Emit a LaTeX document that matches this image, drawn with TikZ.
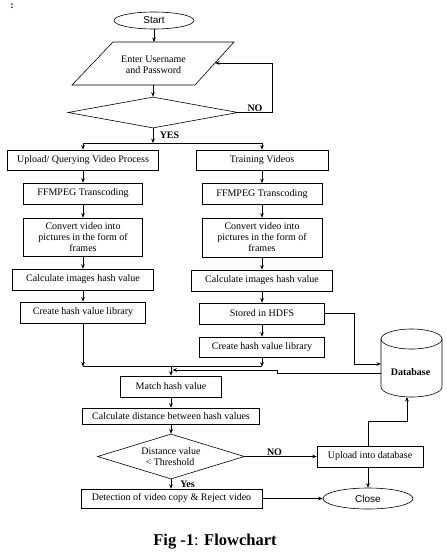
\documentclass[tikz,border=0pt]{standalone}
\usepackage{fontspec}
\setmainfont{Liberation Serif}
\setsansfont{Liberation Sans}
\usetikzlibrary{shapes.geometric,arrows.meta,calc}
\begin{document}
\begin{tikzpicture}[x=1pt,y=-1pt,
  line width=0.6pt,
  arr/.style={-{Stealth[length=4.5pt,width=3.6pt]}},
  box/.style={draw, rectangle, inner sep=0pt, align=center, font=\fontsize{10}{11}\selectfont},
  term/.style={draw, ellipse, inner sep=0pt, font=\sffamily\fontsize{10}{12}\selectfont},
  dec/.style={draw, diamond, inner sep=0pt, align=center, font=\fontsize{10}{11}\selectfont},
  lbl/.style={font=\bfseries\fontsize{10}{12}\selectfont, inner sep=0pt, anchor=base},
  txt/.style={inner sep=0pt, align=center, font=\fontsize{10}{11}\selectfont},
]
\useasboundingbox (0,0) rectangle (447,552);
\fill[white] (0,0) rectangle (447,552);

\node[lbl] (colon) at (12,8) {:};

% start
\node[term, minimum width=80pt, minimum height=17pt] (start) at (154,20.5) {Start};

% parallelogram
\coordinate (pTL) at (113,42);
\coordinate (pTR) at (234,42);
\coordinate (pBR) at (195,85);
\coordinate (pBL) at (72,85);
\draw (pTL) -- (pTR) -- (pBR) -- (pBL) -- cycle;
\node[txt] (enter) at (153.5,64.5) {Enter Username\\and Password};
\coordinate (enterTop) at (154,42);
\coordinate (enterBot) at (153,85);
\coordinate (enterRight) at (215,63);

% login decision
\node[dec, aspect=5.5, minimum width=170pt, minimum height=31pt] (d1) at (153,112.5) {};

% branches
\node[box, minimum width=151pt, minimum height=20pt] (up1) at (83,160) {Upload/ Querying Video Process};
\node[box, minimum width=132pt, minimum height=20pt] (tr1) at (262,160) {Training Videos};

\node[box, minimum width=119pt, minimum height=21pt] (ff1) at (83,193.5) {FFMPEG Transcoding};
\node[box, minimum width=120pt, minimum height=21pt] (ff2) at (262,194) {FFMPEG Transcoding};

\node[box, minimum width=119pt, minimum height=38pt] (cv1) at (83,237) {Convert video into\\pictures in the form of\\frames};
\node[box, minimum width=120pt, minimum height=39pt] (cv2) at (262,237.5) {Convert video into\\pictures in the form of\\frames};

\node[box, minimum width=141pt, minimum height=21pt] (ch1) at (83,279.5) {Calculate images hash value};
\node[box, minimum width=141pt, minimum height=21pt] (ch2) at (262,280.5) {Calculate images hash value};

\node[box, minimum width=125pt, minimum height=21pt] (hl1) at (83,312.5) {Create hash value library};
\node[box, minimum width=125pt, minimum height=21pt] (hd2) at (262,313.5) {Stored in HDFS};
\node[box, minimum width=125pt, minimum height=20pt] (hl2) at (262,347) {Create hash value library};

% database
\node[inner sep=0pt, minimum width=61pt, minimum height=68pt] (db) at (411.5,363) {};
\draw (381,339) -- (381,387) arc[start angle=180, end angle=360, x radius=30.5pt, y radius=10pt] -- (442,339);
\draw (411.5,339) ellipse [x radius=30.5pt, y radius=10pt];
\node[lbl] (dbl) at (410.5,375) {Database};
\coordinate (dbIn) at (381,364);
\coordinate (dbOut) at (381,373);
\coordinate (dbBot) at (407,397);

% lower part
\node[box, minimum width=101pt, minimum height=21pt] (match) at (171,386.5) {Match hash value};
\node[box, minimum width=177pt, minimum height=16pt] (calc) at (171,416) {Calculate distance between hash values};
\node[dec, aspect=3.3, minimum width=147pt, minimum height=45pt] (d2) at (171,456.5) {Distance value\\[-0.5pt]\hspace*{-2pt}{<} Threshold};
\node[box, minimum width=106pt, minimum height=21pt] (upl) at (370,456.5) {Upload into database};
\node[term, minimum width=90pt, minimum height=21pt] (close) at (368,498.5) {Close};
\node[box, minimum width=181pt, minimum height=19pt] (det) at (171.5,498.5) {Detection of video copy \& Reject video};

% join coordinates
\coordinate (split) at (153,143);
\coordinate (jl) at (83,366.5);
\coordinate (jr) at (262,366.5);
\coordinate (jm) at (171,366.5);
\coordinate (mIn) at (172.5,370);

% connectors
\draw[arr] (start.south) -- (enterTop);
\draw[arr] (enterBot) -- (d1.north);
\draw[arr] (d1.east) -- ++(34,0) |- (enterRight);
\draw[arr] (d1.south) -- (split);
\draw[arr] (split) -| (up1.north);
\draw[arr] (split) -| (tr1.north);

\draw[arr] (up1.south) -- (ff1.north);
\draw[arr] (ff1.south) -- (cv1.north);
\draw[arr] (cv1.south) -- (ch1.north);
\draw[arr] (ch1.south) -- (hl1.north);
\draw[arr] (tr1.south) -- (ff2.north);
\draw[arr] (ff2.south) -- (cv2.north);
\draw[arr] (cv2.south) -- (ch2.north);
\draw[arr] (ch2.south) -- (hd2.north);
\draw[arr] (hd2.south) -- (hl2.north);

\draw[arr] (hd2.east) -- ++(29,0) |- (dbIn);

\draw[arr] (hl1.south) -- (jl);
\draw[arr] (hl2.south) -- (jr);
\draw (jl) -- (jr);
\draw[arr] (jm) -- (match.north);
\draw[arr] (dbOut) -- ++(-104,0) -- ++(0,-3) -- (mIn);

\draw[arr] (match.south) -- (calc.north);
\draw[arr] (calc.south) -- (d2.north);
\draw[arr] (d2.east) -- (upl.west);
\draw[arr] (d2.south) -- (det.north -| d2.south);
\draw[arr] (close |- upl.north) -- ++(0,-24.5) -| (dbBot);
\draw[arr] (close |- upl.south) -- (close.north);
\draw[arr] (det.east) -- (close.west);

% labels
\node[lbl] (no1) at (255,111) {NO};
\node[lbl] (yes1) at (169.5,138.5) {YES};
\node[lbl] (no2) at (274.5,455) {NO};
\node[lbl] (yes2) at (187.5,487.5) {Yes};

% caption
\node[font=\bfseries\fontsize{16.5}{18}\selectfont, anchor=base, inner sep=0pt] (cap) at (215,545) {Fig -1\textmd{:} Flowchart};
\end{tikzpicture}
\end{document}
